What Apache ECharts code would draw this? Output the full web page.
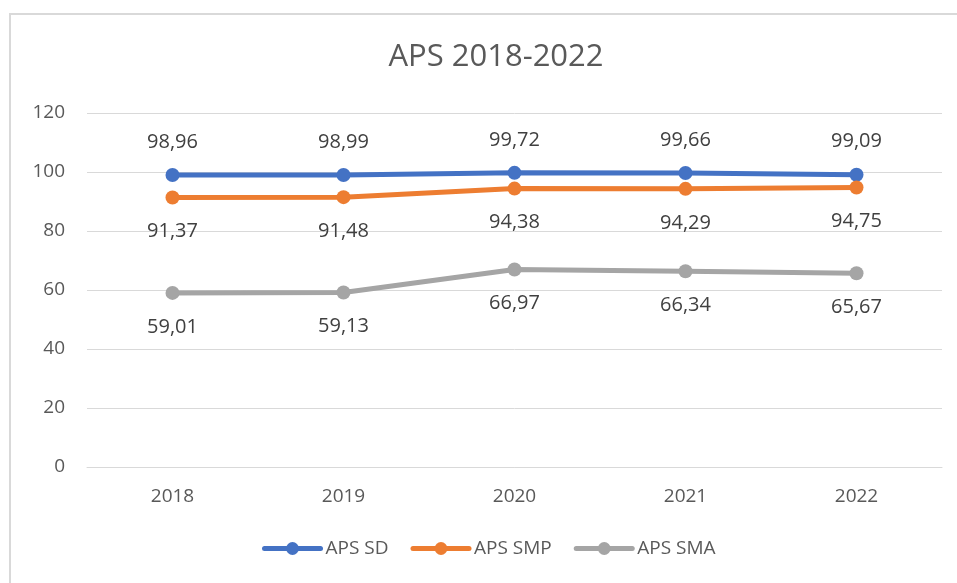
<!DOCTYPE html>
<html>
<head>
<meta charset="utf-8">
<script src="https://cdn.jsdelivr.net/npm/echarts@6/dist/echarts.min.js"></script>
<style>
  html, body { margin: 0; padding: 0; background: #fff; }
  #frame { position: absolute; left: 9px; top: 13px; width: 960px; height: 590px; border: 2px solid #d9d9d9; box-sizing: border-box; }
  #chart { position: absolute; left: 0; top: 0; width: 957px; height: 583px; }
</style>
</head>
<body>
<div id="frame"></div>
<div id="chart"></div>
<script>
// 年份
const years = ['2018', '2019', '2020', '2021', '2022']
// APS 数据
const apsSD = [98.96, 98.99, 99.72, 99.66, 99.09]
const apsSMP = [91.37, 91.48, 94.38, 94.29, 94.75]
const apsSMA = [59.01, 59.13, 66.97, 66.34, 65.67]
const seriesNames = ['APS SD', 'APS SMP', 'APS SMA']
const colors = ['#4472C4', '#ED7D31', '#A5A5A5']

const font = 'Open Sans'
const fmt = p => p.value.toFixed(2).replace('.', ',')

function makeSeries(name, data, color, pos) {
  return {
    name: name,
    type: 'line',
    data: data,
    symbol: 'circle',
    symbolSize: 14,
    lineStyle: { width: 5, color: color, cap: 'round' },
    itemStyle: { color: color },
    label: {
      show: true,
      position: pos,
      distance: pos === 'top' ? 16 : 17,
      formatter: fmt,
      fontFamily: font,
      fontSize: 20,
      color: '#404040'
    },
    emphasis: { disabled: true },
    animation: false
  }
}

const myChart = echarts.init(document.getElementById('chart'))
const option = {
  title: {
    text: 'APS 2018-2022',
    left: 491,
    textAlign: 'center',
    top: 37,
    textStyle: { fontFamily: font, fontWeight: 'normal', fontSize: 31, color: '#595959' }
  },
  legend: {
    bottom: 20,
    left: 257,
    itemWidth: 56,
    itemHeight: 16,
    itemGap: 22,
    lineStyle: { width: 5, cap: 'round' },
    textStyle: { fontFamily: font, fontSize: 19, color: '#595959' },
    data: seriesNames
  },
  grid: { left: 87, right: 15, top: 113, bottom: 116 },
  xAxis: {
    type: 'category',
    data: years,
    boundaryGap: true,
    axisLine: { lineStyle: { color: '#d9d9d9', width: 1 } },
    axisTick: { show: false },
    axisLabel: { fontFamily: font, fontSize: 19, color: '#595959', margin: 20 }
  },
  yAxis: {
    type: 'value',
    min: 0,
    max: 120,
    interval: 20,
    axisLine: { show: false },
    axisTick: { show: false },
    splitLine: { lineStyle: { color: '#d9d9d9', width: 1 } },
    axisLabel: { fontFamily: font, fontSize: 19, color: '#595959', margin: 22 }
  },
  series: [
    makeSeries(seriesNames[0], apsSD, colors[0], 'top'),
    makeSeries(seriesNames[1], apsSMP, colors[1], 'bottom'),
    makeSeries(seriesNames[2], apsSMA, colors[2], 'bottom')
  ]
}
myChart.setOption(option)
</script>
</body>
</html>
